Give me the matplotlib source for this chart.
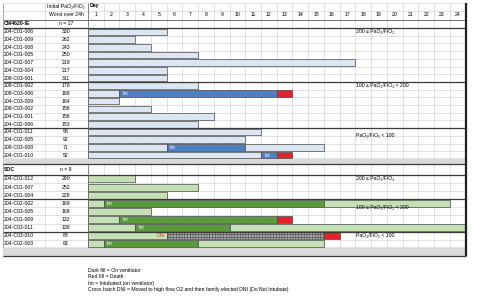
import matplotlib
matplotlib.use("Agg")
import matplotlib.pyplot as plt

plt.rcParams['font.family'] = ['Liberation Sans', 'DejaVu Sans']
plt.rcParams['hatch.linewidth'] = 0.4
plt.rcParams['hatch.color'] = '#7a7a7a'

# ---------------- data ----------------
days = list(range(1, 25))

cm_name = "CM4620-IE"
cm_n = "n = 17"
cm_ids = ["204-C01-006", "204-C01-009", "204-C01-008", "204-C01-005", "204-C02-007",
          "204-C03-004", "208-C03-001", "208-C01-002", "208-C03-006", "204-C03-009",
          "208-C03-002", "204-C01-001", "204-C02-006", "204-C01-011", "204-C02-005",
          "208-C03-008", "204-C01-010"]
cm_pf = [330, 262, 243, 250, 218, 217, 311, 178, 168, 164, 156, 156, 153, 98, 92, 71, 52]
# (start day, end day, state) per patient
cm_segs = [
    [(0, 5, 'o2')],
    [(0, 3, 'o2')],
    [(0, 4, 'o2')],
    [(0, 7, 'o2')],
    [(0, 17, 'o2')],
    [(0, 5, 'o2')],
    [(0, 5, 'o2')],
    [(0, 7, 'o2')],
    [(0, 2, 'o2'), (2, 12, 'vent'), (12, 13, 'death')],
    [(0, 2, 'o2')],
    [(0, 4, 'o2')],
    [(0, 8, 'o2')],
    [(0, 7, 'o2')],
    [(0, 11, 'o2')],
    [(0, 10, 'o2')],
    [(0, 5, 'o2'), (5, 10, 'vent'), (10, 15, 'o2')],
    [(0, 11, 'o2'), (11, 12, 'vent'), (12, 13, 'death')],
]
cm_bands = [("200 \u2264 PaO\u2082/FiO\u2082", 0, 7),
            ("100 \u2264 PaO\u2082/FiO\u2082 < 200", 7, 13),
            ("PaO\u2082/FiO\u2082 < 100", 13, 17)]

soc_name = "SOC"
soc_n = "n = 9"
soc_ids = ["204-C01-012", "204-C01-007", "204-C01-004", "204-C02-002", "204-C03-005",
           "204-C01-009", "204-C03-011", "204-C03-010", "204-C02-003"]
soc_pf = [290, 252, 228, 169, 168, 132, 138, 88, 63]
soc_segs = [
    [(0, 3, 'o2')],
    [(0, 7, 'o2')],
    [(0, 5, 'o2')],
    [(0, 1, 'o2'), (1, 15, 'vent'), (15, 23, 'o2')],
    [(0, 4, 'o2')],
    [(0, 2, 'o2'), (2, 12, 'vent'), (12, 13, 'death')],
    [(0, 3, 'o2'), (3, 9, 'vent'), (9, 24, 'o2')],
    [(0, 5, 'o2'), (5, 15, 'dni'), (15, 16, 'death')],
    [(0, 1, 'o2'), (1, 7, 'vent'), (7, 15, 'o2')],
]
soc_bands = [("200 \u2264 PaO\u2082/FiO\u2082", 0, 3),
             ("100 \u2264 PaO\u2082/FiO\u2082 < 200", 3, 7),
             ("PaO\u2082/FiO\u2082 < 100", 7, 9)]

notes = ["Dark fill = On ventilator",
         "Red fill = Death",
         "Int = Intubated (on ventilator)",
         "Cross hatch DNI = Moved to high flow O2 and then family elected DNI (Do Not Intubate)"]

# ---------------- layout ----------------
W, H = 478, 299
DAY0 = 88.0      # pixel where day 0 starts
DAY_W = 15.73    # pixels per day


def dx(p):
    return (p - DAY0) / DAY_W


LEFT = dx(3)
COL2 = dx(45)
COL2_MID = dx(66)
RIGHT = 24
TOP = 3
FS = 3.7
GRID = '#d4d4d4'
DARK = '#3a3a3a'

fig = plt.figure(figsize=(W / 100, H / 100), dpi=100)
ax = fig.add_axes([0, 0, 1, 1])
ax.set_xlim(dx(0), dx(W))
ax.set_ylim(H, 0)
ax.axis('off')

# header
ax.text(COL2_MID, 6.5, "Initial PaO\u2082/FiO\u2082", fontsize=FS, ha='center', va='center')
ax.text(COL2_MID, 15, "Worst over 24h", fontsize=FS, ha='center', va='center')
ax.text(dx(90), 6, "Day", fontsize=FS, fontweight='bold', ha='left', va='center')
for d in days:
    ax.text(d - 0.5, 15, str(d), fontsize=FS, ha='center', va='center')
ax.hlines([TOP, 11], LEFT, RIGHT, color=GRID, lw=0.5)
ax.hlines(19.5, LEFT, RIGHT, color='#707070', lw=0.7)


def draw_group(name, n, ids, pf, segs, bands, top, head_h, row_h, light, dark):
    rows_top = top + head_h
    ax.text(dx(4), top + head_h / 2, name, fontsize=FS, fontweight='bold', ha='left', va='center')
    ax.text(COL2_MID, top + head_h / 2, n, fontsize=FS, ha='center', va='center')
    bounds = [rows_top + i * row_h for i in range(len(ids) + 1)]
    ax.hlines(bounds, LEFT, RIGHT, color=GRID, lw=0.5, zorder=1)
    fills = {'o2': light, 'vent': dark, 'death': '#e3232b', 'dni': '#a8a8a8'}
    for i, (pid, val, row) in enumerate(zip(ids, pf, segs)):
        yc = rows_top + (i + 0.5) * row_h
        ax.text(dx(4), yc, pid, fontsize=FS, ha='left', va='center')
        ax.text(COL2_MID, yc, str(val), fontsize=FS, ha='center', va='center')
        for s, e, st in row:
            ax.barh(yc, e - s, left=s, height=row_h * 0.86, color=fills[st],
                    edgecolor='#4a4a4a', lw=0.5, zorder=3,
                    hatch='++++++' if st == 'dni' else None)
            if st == 'vent':
                ax.text(s + 0.2, yc, "Int", fontsize=FS, color='white', ha='left', va='center', zorder=4)
            if st == 'dni':
                ax.text(s - 0.1, yc, "DNI", fontsize=FS, color='#d4553a', ha='right', va='center', zorder=4)
    for label, a, b in bands:
        ax.hlines(bounds[a], LEFT, RIGHT, color=DARK, lw=0.9, zorder=5)
        yl = rows_top + (a + 0.5) * row_h if b - a != 4 else rows_top + (a + 1) * row_h
        ax.text(dx(356), yl, label, fontsize=FS, ha='left', va='center', zorder=4)
    ax.hlines(bounds[-1], LEFT, RIGHT, color=DARK, lw=0.9, zorder=5)
    return bounds[-1]


bot1 = draw_group(cm_name, cm_n, cm_ids, cm_pf, cm_segs, cm_bands, 19.5, 8.5, 7.7,
                  '#dce6f2', '#4f7fc1')
gap1 = bot1 + 5.5
ax.fill_between([LEFT, RIGHT], bot1, gap1, color='#d9d9d9', zorder=6, lw=0)
ax.hlines(gap1, LEFT, RIGHT, color=DARK, lw=0.9, zorder=6)
bot2 = draw_group(soc_name, soc_n, soc_ids, soc_pf, soc_segs, soc_bands, gap1, 10.5, 8.1,
                  '#c5e0b4', '#5b9a3d')
gap2 = bot2 + 8.5
ax.fill_between([LEFT, RIGHT], bot2, gap2, color='#d9d9d9', zorder=6, lw=0)
ax.hlines(gap2, LEFT, RIGHT, color=DARK, lw=0.9, zorder=6)

# vertical grid
ax.vlines(range(1, 25), TOP, gap2, color=GRID, lw=0.5, zorder=1)
ax.vlines(COL2, TOP, gap2, color=GRID, lw=0.5, zorder=1)
ax.vlines(LEFT, TOP, gap2, color='#9a9a9a', lw=0.6, zorder=5)
ax.vlines(0, TOP, gap2, color='#707070', lw=0.6, zorder=5)
ax.vlines(RIGHT, TOP, gap2, color='#202020', lw=1.6, zorder=7)

for i, t in enumerate(notes):
    ax.text(0, 270 + 6.6 * i, t, fontsize=FS, ha='left', va='center')

fig.savefig("out.png", dpi=100)
